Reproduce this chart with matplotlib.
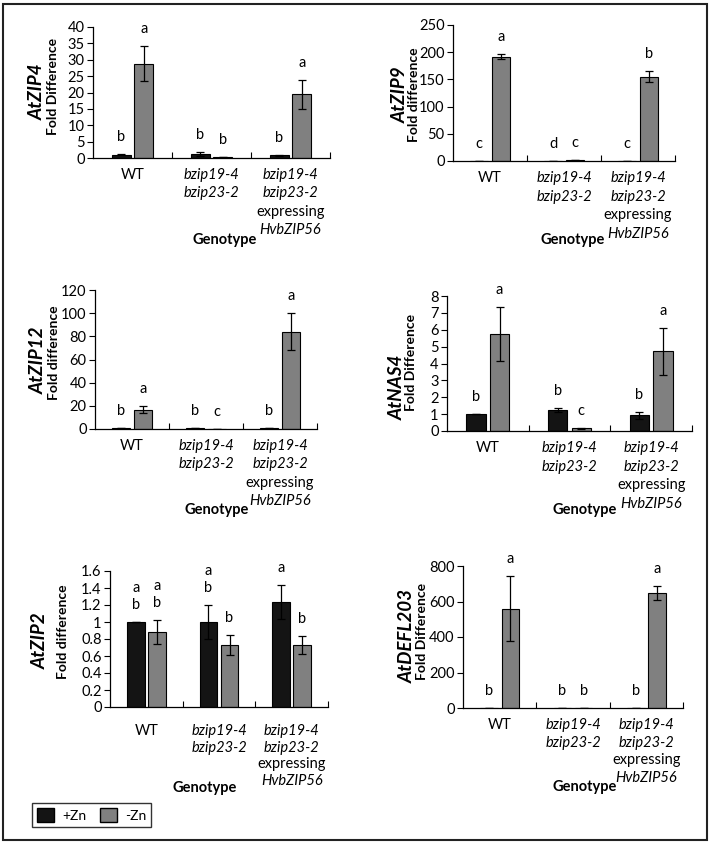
import numpy as np
import matplotlib
matplotlib.use('Agg')
import matplotlib.pyplot as plt
from matplotlib.patches import Rectangle, Patch

plt.rcParams['font.family'] = ['Lato', 'DejaVu Sans']

# genotypes (x groups)
genotypes = ['WT', 'bzip19-4 bzip23-2', 'bzip19-4 bzip23-2 expressing HvbZIP56']
genotype_lines = [
    [('WT', 'normal')],
    [('bzip19-4', 'italic'), ('bzip23-2', 'italic')],
    [('bzip19-4', 'italic'), ('bzip23-2', 'italic'), ('expressing', 'normal'), ('HvbZIP56', 'italic')],
]

# AtZIP4
zip4_plus = [1.0, 1.2, 0.8]
zip4_plus_err = [0.1, 0.5, 0.15]
zip4_minus = [28.8, 0.3, 19.4]
zip4_minus_err = [5.4, 0.1, 4.5]
zip4_letters = (['b', 'b', 'b'], ['a', 'b', 'a'])

# AtZIP9
zip9_plus = [0.5, 0.3, 0.5]
zip9_plus_err = [0, 0, 0]
zip9_minus = [192, 1.5, 155]
zip9_minus_err = [4, 0.5, 10]
zip9_letters = (['c', 'd', 'c'], ['a', 'c', 'b'])

# AtZIP12
zip12_plus = [1.0, 0.6, 1.0]
zip12_plus_err = [0, 0, 0]
zip12_minus = [16.5, 0.2, 84]
zip12_minus_err = [3, 0, 16]
zip12_letters = (['b', 'b', 'b'], ['a', 'c', 'a'])

# AtNAS4
nas4_plus = [1.0, 1.25, 0.92]
nas4_plus_err = [0, 0.12, 0.18]
nas4_minus = [5.75, 0.15, 4.72]
nas4_minus_err = [1.6, 0.04, 1.4]
nas4_letters = (['b', 'b', 'b'], ['a', 'c', 'a'])

# AtZIP2
zip2_plus = [1.0, 1.0, 1.24]
zip2_plus_err = [0, 0.2, 0.2]
zip2_minus = [0.88, 0.73, 0.73]
zip2_minus_err = [0.14, 0.12, 0.11]
zip2_letters = (['a\nb', 'a\nb', 'a'], ['a\nb', 'b', 'b'])

# AtDEFL203
defl_plus = [1.0, 1.0, 1.0]
defl_plus_err = [0, 0, 0]
defl_minus = [560, 2, 648]
defl_minus_err = [185, 0, 38]
defl_letters = (['b', 'b', 'b'], ['a', 'b', 'a'])

panels = [
    ('AtZIP4', 'Fold Difference', zip4_plus, zip4_plus_err, zip4_minus, zip4_minus_err, zip4_letters, np.arange(0, 41, 5)),
    ('AtZIP9', 'Fold difference', zip9_plus, zip9_plus_err, zip9_minus, zip9_minus_err, zip9_letters, np.arange(0, 251, 50)),
    ('AtZIP12', 'Fold difference', zip12_plus, zip12_plus_err, zip12_minus, zip12_minus_err, zip12_letters, np.arange(0, 121, 20)),
    ('AtNAS4', 'Fold Difference', nas4_plus, nas4_plus_err, nas4_minus, nas4_minus_err, nas4_letters, np.arange(0, 9, 1)),
    ('AtZIP2', 'Fold difference', zip2_plus, zip2_plus_err, zip2_minus, zip2_minus_err, zip2_letters, np.round(np.arange(0, 1.61, 0.2), 1)),
    ('AtDEFL203', 'Fold Difference', defl_plus, defl_plus_err, defl_minus, defl_minus_err, defl_letters, np.arange(0, 801, 200)),
]

# layout in pixels: axes (left, top, right, bottom), label centres, genotype position
W, H = 709, 844
rects = [(93, 27, 330, 158), (453, 25, 675, 161), (95, 290, 317, 429),
         (447, 296, 692, 431), (110, 571, 328, 707), (463, 566, 683, 708)]
gene_pos = [(37, 92), (400, 95), (38, 360), (397, 387), (40, 641), (407, 636)]
fold_pos = [(53, 86), (414, 95), (54, 353), (411, 362), (63, 632), (422, 631)]
xlab_pad = [10, 10, 10, 10, 17, 10]
xlab_step = [18.5, 18.5, 18.5, 18.5, 16.7, 17.5]
geno_pos = [(225, 240), (573, 240), (217, 510), (585, 510), (205, 788), (585, 787)]

black = '#141414'
gray = '#808080'
width = 0.24
off = 0.145
centers = np.arange(3) + 0.5

fig = plt.figure(figsize=(W / 100, H / 100), dpi=100)

for i, (gene, ylab, plus, plus_err, minus, minus_err, letters, yt) in enumerate(panels):
    l, t, r, b = rects[i]
    ax = fig.add_axes([l / W, 1 - b / H, (r - l) / W, (b - t) / H])
    ax.bar(centers - off, plus, width, color=black, edgecolor='black', linewidth=0.8, zorder=2)
    ax.bar(centers + off, minus, width, color=gray, edgecolor='black', linewidth=0.8, zorder=2)
    ax.errorbar(centers - off, plus, yerr=plus_err, fmt='none', ecolor='black', elinewidth=0.9, capsize=3, capthick=0.9, zorder=3)
    ax.errorbar(centers + off, minus, yerr=minus_err, fmt='none', ecolor='black', elinewidth=0.9, capsize=3, capthick=0.9, zorder=3)

    ax.set_xlim(0, 3)
    ax.set_ylim(yt[0], yt[-1])
    ax.set_yticks(yt)
    ax.set_yticklabels(['%g' % v for v in yt], fontsize=10.5)
    ax.set_xticks([1, 2, 3])
    ax.set_xticklabels([])
    ax.tick_params(axis='x', direction='in', length=4, width=0.8)
    ax.tick_params(axis='y', direction='out', length=4, width=0.8, pad=2)
    for s in ['top', 'right']:
        ax.spines[s].set_visible(False)
    for s in ['left', 'bottom']:
        ax.spines[s].set_linewidth(0.9)

    # significance letters
    for vals, errs, lets, dx in [(plus, plus_err, letters[0], -off), (minus, minus_err, letters[1], off)]:
        for c, v, e, lt in zip(centers, vals, errs, lets):
            ax.annotate(lt, xy=(c + dx, v + e), xytext=(0, 10), textcoords='offset pixels',
                        ha='center', va='bottom', fontsize=10.5, linespacing=1.3)

    # genotype tick labels
    for c, lines in zip(centers, genotype_lines):
        for j, (txt, st) in enumerate(lines):
            ax.annotate(txt, xy=(c, 0), xycoords=('data', 'axes fraction'),
                        xytext=(0, -xlab_pad[i] - j * xlab_step[i]), textcoords='offset pixels',
                        ha='center', va='top', fontsize=10.5, style=st)

    # y labels (gene name + fold difference)
    gx, gy = gene_pos[i]
    fig.text(gx / W, 1 - gy / H, gene, rotation=90, ha='center', va='center',
             fontsize=13.5, fontweight='bold', style='italic')
    fx, fy = fold_pos[i]
    fig.text(fx / W, 1 - fy / H, ylab, rotation=90, ha='center', va='center',
             fontsize=10, fontweight='bold')

    px, py = geno_pos[i]
    fig.text(px / W, 1 - py / H, 'Genotype', ha='center', va='center', fontsize=10.5, fontweight='bold')

# legend
handles = [Patch(facecolor=black, edgecolor='black', label='+Zn'),
           Patch(facecolor=gray, edgecolor='black', label='-Zn')]
leg = fig.legend(handles=handles, loc='lower left', bbox_to_anchor=(32 / W, 1 - 827 / H), ncol=2,
                 fontsize=10, frameon=True, fancybox=False, edgecolor='black',
                 handlelength=1.2, handleheight=1.2, columnspacing=1.0, borderpad=0.35,
                 handletextpad=0.6, borderaxespad=0)
leg.get_frame().set_linewidth(1.0)

# outer frame
fig.patches.append(Rectangle((3 / W, 4 / H), 704 / W, 836 / H, transform=fig.transFigure,
                             fill=False, edgecolor='#222222', linewidth=1.5))

fig.savefig('out.png', dpi=100)
